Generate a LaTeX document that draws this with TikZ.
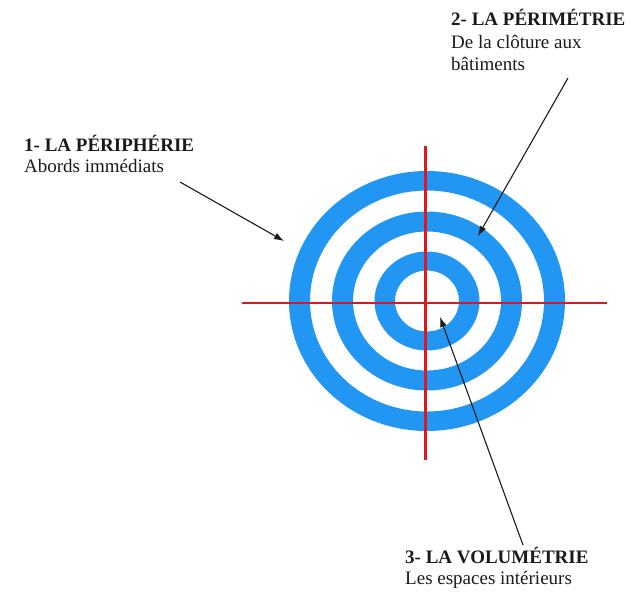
\documentclass[tikz,border=0pt]{standalone}
\usepackage{fontspec}
\setmainfont{Liberation Serif}
\usetikzlibrary{arrows.meta, positioning}
\definecolor{ring}{HTML}{2196F3}
\definecolor{cross}{HTML}{E3151C}
\definecolor{ink}{HTML}{1A1A1A}

\begin{document}
\begin{tikzpicture}[x=1pt, y=-1pt, >={Latex[length=10pt, width=7pt]},
    font=\fontsize{19}{22}\selectfont,
    title/.style={anchor=base west, inner sep=0pt, text=ink, font=\fontsize{19}{22}\selectfont\bfseries},
    sub/.style={anchor=base west, inner sep=0pt, align=left, text=ink},
    arr/.style={->, ink, line width=1.1pt}]
  \useasboundingbox (0,0) rectangle (644,594);

  % target
  \fill[ring, even odd rule] (427,301) ellipse [x radius=138, y radius=130]
    (427,301) ellipse [x radius=117, y radius=110.5]
    (427,301) ellipse [x radius=95, y radius=89.5]
    (427,301) ellipse [x radius=74, y radius=69.5]
    (427,301) ellipse [x radius=52.5, y radius=49.5]
    (427,301) ellipse [x radius=32, y radius=30.5];
  \coordinate (top) at (425.5,146);
  \coordinate (bot) at (425.5,460);
  \coordinate (lft) at (242,303);
  \coordinate (rgt) at (607,303);
  \draw[cross, line width=2.2pt] (top) -- (bot);
  \draw[cross, line width=2.2pt] (lft) -- (rgt);

  % labels
  \node[title] (periph) at (24,151) {1- LA PÉRIPHÉRIE};
  \node[sub, below=21pt of periph.base west, anchor=base west] (periphtxt) {Abords immédiats};

  \node[title] (perim) at (451,25.5) {2- LA PÉRIMÉTRIE};
  % base of a two-line node sits on its last line
  \node[sub, below=45pt of perim.base west, anchor=base west] (perimtxt) {De la clôture aux\\bâtiments};

  \node[title] (volum) at (405,563) {3- LA VOLUMÉTRIE};
  \node[sub, below=21pt of volum.base west, anchor=base west] (volumtxt) {Les espaces intérieurs};

  % arrows
  \coordinate (periphfrom) at (180,182);
  \coordinate (periphto) at (284,241);
  \coordinate (perimfrom) at (568,78);
  \coordinate (perimto) at (478,236);
  \coordinate (volumfrom) at (523,545);
  \coordinate (volumto) at (440,317);
  \draw[arr] (periphfrom) -- (periphto);
  \draw[arr] (perimfrom) -- (perimto);
  \draw[arr] (volumfrom) -- (volumto);
\end{tikzpicture}
\end{document}
